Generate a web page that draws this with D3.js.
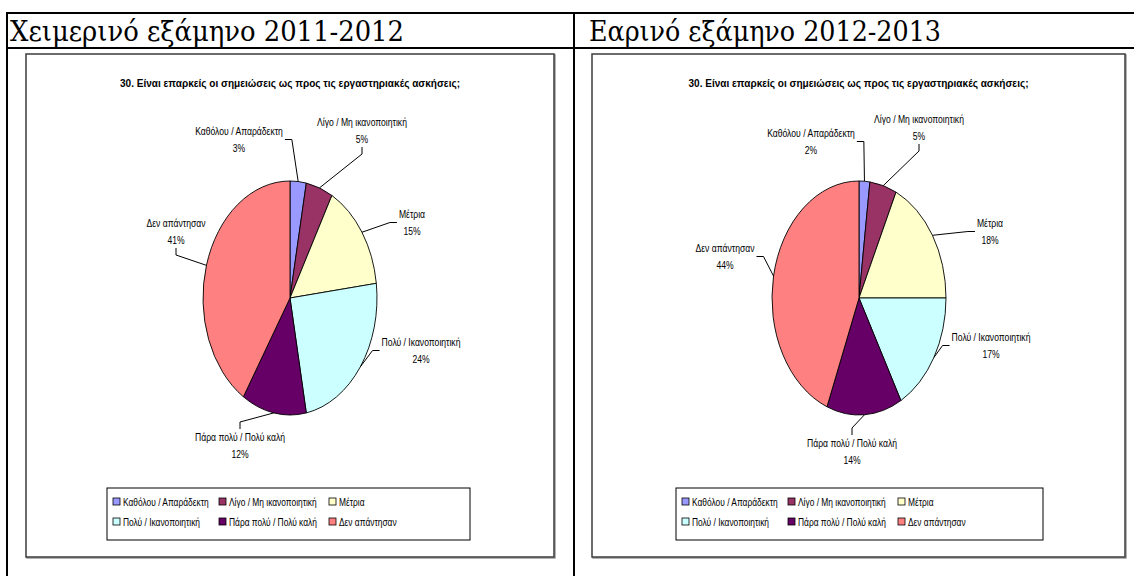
<!DOCTYPE html>
<html>
<head>
<meta charset="utf-8">
<script src="https://cdn.jsdelivr.net/npm/d3@7/dist/d3.min.js"></script>
<style>
  html, body { margin: 0; padding: 0; background: #fff; }
  svg { display: block; }
  .hdr { font-family: "DejaVu Serif", "Liberation Serif", serif; font-size: 28px; fill: #000; }
  .ttl { font-family: "Liberation Sans", Arial, sans-serif; font-weight: bold; font-size: 10px; fill: #000; }
  .lbl { font-family: "Liberation Sans", Arial, sans-serif; font-size: 10px; fill: #000; }
  .leg { font-family: "Liberation Sans", Arial, sans-serif; font-size: 10px; fill: #000; }
</style>
</head>
<body>
<svg id="chart" width="1134" height="576"></svg>
<script>
// Survey question 30 — share of answers per category, two semesters
const categories = [
  "Καθόλου / Απαράδεκτη",
  "Λίγο / Μη ικανοποιητική",
  "Μέτρια",
  "Πολύ / Ικανοποιητική",
  "Πάρα πολύ / Πολύ καλή",
  "Δεν απάντησαν"
];
const winterValues = [3, 5, 15, 24, 12, 41];
const springValues = [2, 5, 18, 17, 14, 44];
const sliceColors = ["#9999FF", "#993366", "#FFFFCC", "#CCFFFF", "#660066", "#FF8080"];
const semesterHeaders = ["Χειμερινό εξάμηνο 2011-2012", "Εαρινό εξάμηνο 2012-2013"];
const questionTitle = "30. Είναι επαρκείς οι σημειώσεις ως προς τις εργαστηριακές ασκήσεις;";

// Layout of the two panels
const panels = [
  {
    values: winterValues, header: semesterHeaders[0], headerX: 10, headerW: 394,
    box: { x: 26, y: 54, w: 528, h: 503 },
    pie: { cx: 290, cy: 298, rx: 87, ry: 117 },
    // label offsets from pie centre and the side the leader line leaves from
    labels: [
      { dx: -51, dy: -167, side: "right" },
      { dx: 72, dy: -176, side: "bottom" },
      { dx: 122, dy: -84, side: "left" },
      { dx: 131, dy: 44, side: "left" },
      { dx: -50, dy: 139, side: "top" },
      { dx: -114, dy: -75, side: "bottom" }
    ],
    legend: { x: 107, y: 488, w: 363, h: 52 }
  },
  {
    values: springValues, header: semesterHeaders[1], headerX: 589, headerW: 352,
    box: { x: 592, y: 54, w: 533, h: 503 },
    pie: { cx: 859, cy: 298, rx: 87, ry: 117 },
    labels: [
      { dx: -48, dy: -165, side: "right" },
      { dx: 60, dy: -179, side: "bottom" },
      { dx: 131, dy: -75, side: "left" },
      { dx: 132, dy: 39, side: "left" },
      { dx: -7, dy: 145, side: "top" },
      { dx: -134, dy: -50, side: "right" }
    ],
    legend: { x: 676, y: 488, w: 367, h: 52 }
  }
];

const svg = d3.select("#chart");
const narrow = 0.86;   // horizontal squeeze for the condensed data-label lettering
const legNarrow = 0.84; // same for the legend entries

// Table grid
const grid = svg.append("g").attr("stroke", "#000").attr("stroke-width", 2);
grid.append("line").attr("x1", 6).attr("x2", 1134).attr("y1", 13).attr("y2", 13);
grid.append("line").attr("x1", 6).attr("x2", 1134).attr("y1", 48).attr("y2", 48);
grid.append("line").attr("x1", 7).attr("x2", 7).attr("y1", 12).attr("y2", 576);
grid.append("line").attr("x1", 574).attr("x2", 574).attr("y1", 12).attr("y2", 576);

const pieGen = d3.pie().sort(null).value(d => d);
const lineSpacing = 17;

function narrowText(parent, cls, x, y, str, k, anchor) {
  const g = parent.append("g").attr("transform", `translate(${x},${y}) scale(${k},1)`);
  const t = g.append("text").attr("class", cls).attr("x", 0).attr("y", 0)
    .attr("dy", "0.35em").attr("text-anchor", anchor).text(str);
  return t.node().getComputedTextLength() * k;
}

panels.forEach(p => {
  // header cell text
  svg.append("text").attr("class", "hdr")
    .attr("x", p.headerX).attr("y", 41)
    .attr("textLength", p.headerW).attr("lengthAdjust", "spacingAndGlyphs")
    .text(p.header);

  // chart area frame with a soft shadow edge
  svg.append("rect")
    .attr("x", p.box.x + 1).attr("y", p.box.y + 1).attr("width", p.box.w).attr("height", p.box.h)
    .attr("fill", "none").attr("stroke", "#9a9a9a").attr("stroke-width", 1.5);
  svg.append("rect")
    .attr("x", p.box.x).attr("y", p.box.y).attr("width", p.box.w).attr("height", p.box.h)
    .attr("fill", "#fff").attr("stroke", "#3c3c3c").attr("stroke-width", 1.5);

  // chart title
  svg.append("text").attr("class", "ttl")
    .attr("x", p.box.x + p.box.w / 2 - 170).attr("y", 87)
    .attr("textLength", 340).attr("lengthAdjust", "spacingAndGlyphs")
    .text(questionTitle);

  // elliptical pie: circular arcs stretched vertically
  const arcs = pieGen(p.values);
  const arc = d3.arc().innerRadius(0).outerRadius(p.pie.ry);
  const pg = svg.append("g")
    .attr("transform", `translate(${p.pie.cx},${p.pie.cy}) scale(${p.pie.rx / p.pie.ry},1)`);
  pg.selectAll("path").data(arcs).join("path")
    .attr("d", arc)
    .attr("fill", (d, i) => sliceColors[i])
    .attr("stroke", "#000")
    .attr("stroke-width", 0.9)
    .attr("vector-effect", "non-scaling-stroke");

  // data labels with leader lines
  const lg = svg.append("g");
  arcs.forEach((d, i) => {
    const L = p.labels[i];
    const lx = p.pie.cx + L.dx, ly = p.pie.cy + L.dy;
    const w1 = narrowText(lg, "lbl", lx, ly, categories[i], narrow, "middle");
    narrowText(lg, "lbl", lx, ly + lineSpacing, d.value + "%", narrow, "middle");
    const hw = w1 / 2 + 2;
    const top = ly - 8, bottom = ly + lineSpacing + 8, midY = ly + lineSpacing / 2;

    const a = (d.startAngle + d.endAngle) / 2;
    const ex = p.pie.cx + p.pie.rx * Math.sin(a);
    const ey = p.pie.cy - p.pie.ry * Math.cos(a);

    let s, e;
    if (L.side === "right") { s = [lx + hw, midY]; e = [lx + hw + 7, midY]; }
    else if (L.side === "left") { s = [lx - hw, midY]; e = [lx - hw - 7, midY]; }
    else if (L.side === "bottom") { s = [lx, bottom]; e = [lx, bottom + 7]; }
    else { s = [lx, top]; e = [lx, top - 7]; }

    lg.append("path")
      .attr("d", d3.line()([s, e, [ex, ey]]))
      .attr("fill", "none").attr("stroke", "#000").attr("stroke-width", 1);
  });

  // legend
  const lgd = svg.append("g").attr("transform", `translate(${p.legend.x},${p.legend.y})`);
  lgd.append("rect").attr("width", p.legend.w).attr("height", p.legend.h)
    .attr("fill", "#fff").attr("stroke", "#000").attr("stroke-width", 1);
  const colX = [6, 112, 222], rowY = [14, 34];
  categories.forEach((c, i) => {
    const x = colX[i % 3], y = rowY[Math.floor(i / 3)];
    lgd.append("rect").attr("x", x).attr("y", y - 4).attr("width", 7).attr("height", 7)
      .attr("fill", sliceColors[i]).attr("stroke", "#000").attr("stroke-width", 0.8);
    narrowText(lgd, "leg", x + 10, y, c, legNarrow, "start");
  });
});
</script>
</body>
</html>
